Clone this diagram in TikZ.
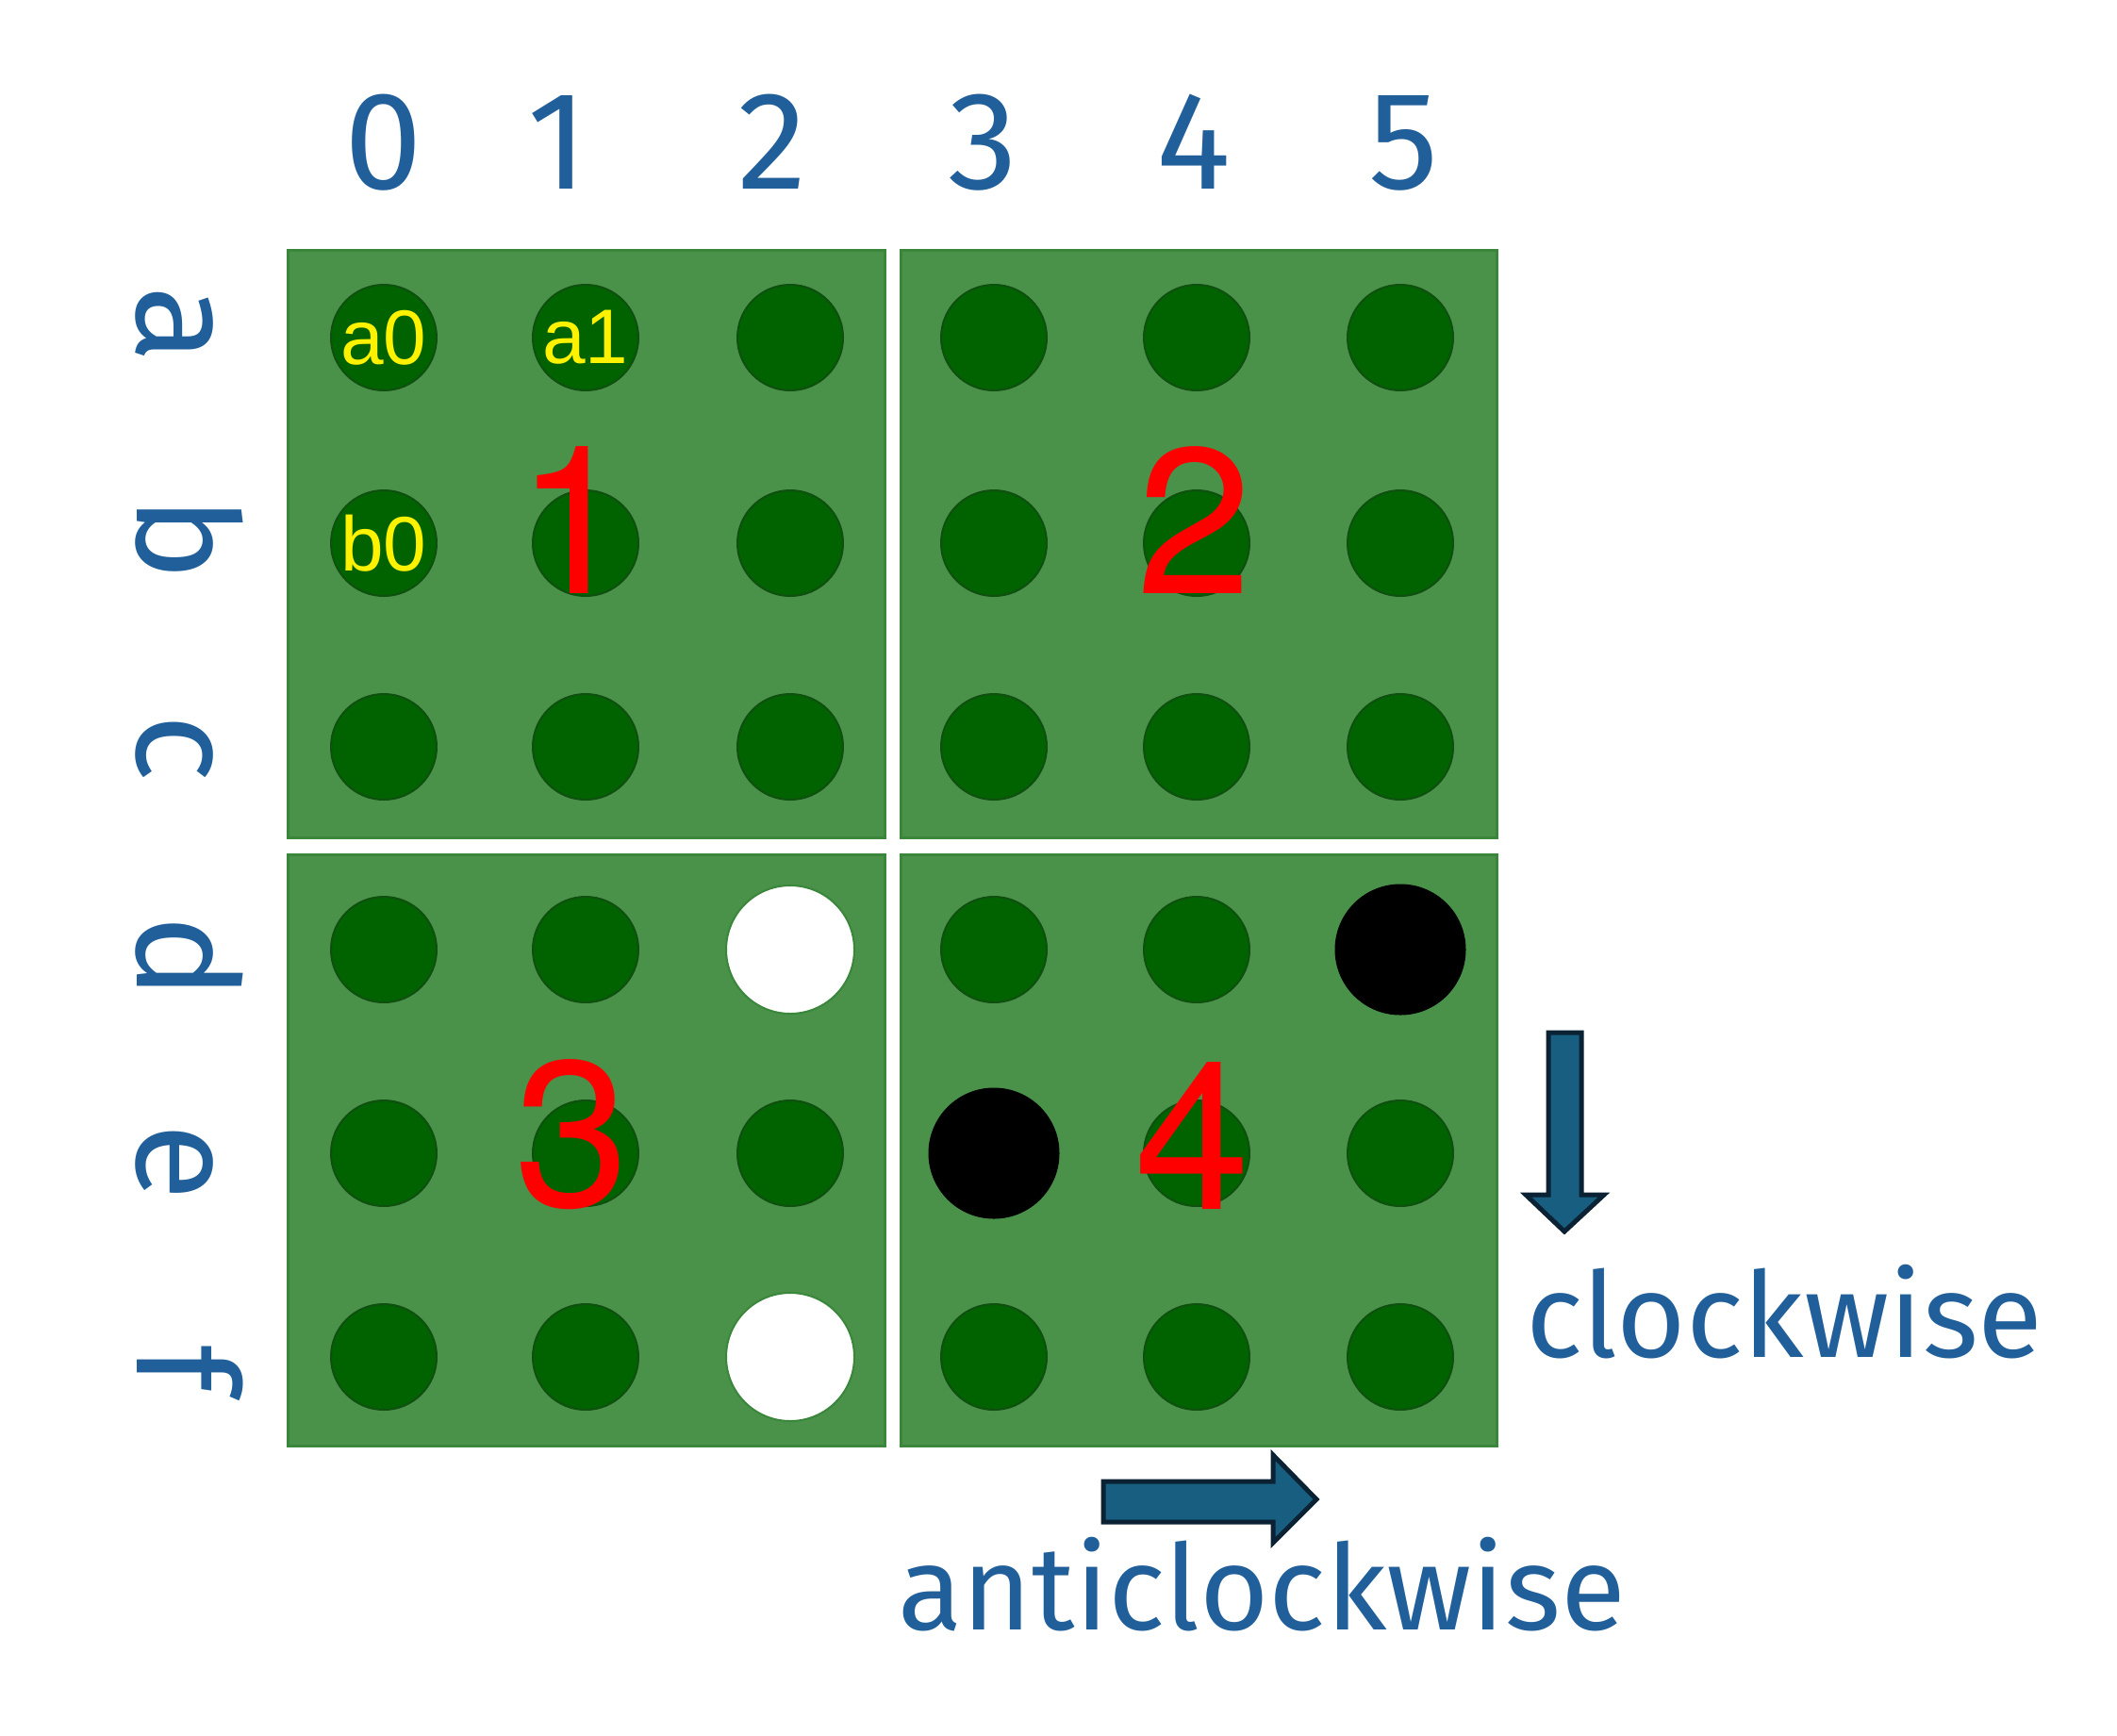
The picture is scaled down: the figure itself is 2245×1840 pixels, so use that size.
\documentclass[tikz,border=0pt]{standalone}
\usepackage{fontspec}
\newfontfamily\lblfont{Fira Sans}
\newfontfamily\arialfont{Liberation Sans}
\newfontfamily\herosfont{TeX Gyre Heros}
\definecolor{boardgreen}{HTML}{4A914A}
\definecolor{boardedge}{HTML}{3A863A}
\definecolor{dotgreen}{HTML}{006300}
\definecolor{dotedge}{HTML}{0F4F0F}
\definecolor{lblblue}{HTML}{215F9A}
\definecolor{arrowfill}{HTML}{185E80}
\definecolor{arrowedge}{HTML}{0A2233}
\tikzset{
  quad/.style={fill=boardgreen, draw=boardedge, line width=3pt},
  gdot/.style={circle, inner sep=0pt, minimum size=112pt, fill=dotgreen, draw=dotedge, line width=2pt},
  wdot/.style={circle, inner sep=0pt, minimum size=136pt, fill=white, draw=boardedge, line width=2pt},
  bdot/.style={circle, inner sep=0pt, minimum size=138pt, fill=black, draw=black, line width=1pt},
  collbl/.style={inner sep=0pt, anchor=base, text=lblblue, font=\fontsize{148}{152}\lblfont},
  rowlbl/.style={inner sep=0pt, anchor=base, rotate=-90, text=lblblue, font=\fontsize{150}{155}\lblfont},
  dirlbl/.style={inner sep=0pt, anchor=base west, text=lblblue, font=\fontsize{126}{132}\lblfont},
  celllbl/.style={inner sep=0pt, text=yellow, font=\fontsize{82}{86}\arialfont},
  quadnum/.style={inner sep=0pt, text=red, font=\fontsize{220}{225}\herosfont},
  barrow/.style={fill=arrowfill, draw=arrowedge, line width=5pt, line join=miter}
}
\begin{document}
\begin{tikzpicture}[x=1pt, y=-1pt]
\useasboundingbox (0,0) rectangle (2245,1840);
% quadrants
\draw[quad] (305,265) rectangle (938,888);
\draw[quad] (955,265) rectangle (1587,888);
\draw[quad] (305,906) rectangle (938,1533);
\draw[quad] (955,906) rectangle (1587,1533);
% dots
\foreach \r/\y in {0/358,1/576,2/792,3/1007,4/1223,5/1439}{
  \foreach \c/\x in {0/407,1/621,2/838,3/1054,4/1269,5/1485}{
    \def\dsty{gdot}%
    \ifnum\r\c=32 \def\dsty{wdot}\fi
    \ifnum\r\c=52 \def\dsty{wdot}\fi
    \ifnum\r\c=35 \def\dsty{bdot}\fi
    \ifnum\r\c=43 \def\dsty{bdot}\fi
    \node[\dsty] (dot\r\c) at (\x,\y) {};
  }
}
% cell labels
\node[celllbl] (la0) at (dot00.center) {a0};
\node[celllbl] (la1) at (dot01.center) {a1};
\node[celllbl] (lb0) at (dot10.center) {b0};
% quadrant numbers
\node[quadnum] (n1) at (609,551) {1};
\node[quadnum] (n2) at (1267,551) {2};
\node[quadnum] (n3) at (607,1203) {3};
\node[quadnum] (n4) at (1265,1204) {4};
% column labels
\node[collbl] (c0) at (407,200) {0};
\node[collbl] (c1) at (592,200) {1};
\node[collbl] (c2) at (819,200) {2};
\node[collbl] (c3) at (1042,200) {3};
\node[collbl] (c4) at (1266,200) {4};
\node[collbl] (c5) at (1489,200) {5};
% row labels
\node[rowlbl] (ra) at (145,344) {a};
\node[rowlbl] (rb) at (145,571) {b};
\node[rowlbl] (rc) at (145,793) {c};
\node[rowlbl] (rd) at (145,1015) {d};
\node[rowlbl] (re) at (145,1232) {e};
\node[rowlbl] (rf) at (145,1452) {f};
% direction arrows
\draw[barrow] (1642,1095) -- (1677,1095) -- (1677,1267) -- (1701,1267) -- (1659,1306) -- (1618,1267) -- (1642,1267) -- cycle;
\draw[barrow] (1170,1571) -- (1350,1571) -- (1350,1543) -- (1396,1590) -- (1350,1636) -- (1350,1614) -- (1170,1614) -- cycle;
% direction labels
\node[dirlbl] (cw) at (1618,1439) {clockwise};
\node[dirlbl] (acw) at (952,1728) {anticlockwise};
\end{tikzpicture}
\end{document}
